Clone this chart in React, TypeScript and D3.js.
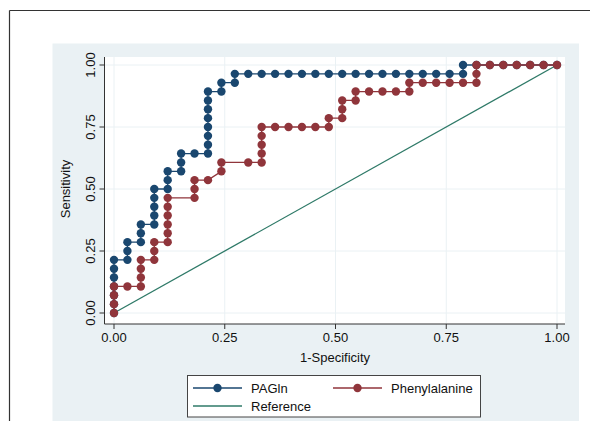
import React from 'react';
import * as d3 from 'd3';

// ROC points, as counts: false positives (of 33 controls)
// and true positives (of 28 cases).
const N_NEG = 33;
const N_POS = 28;

const pagFP = [0, 0, 0, 0, 0, 0, 0, 1, 1, 1, 2, 2, 2, 3, 3, 3, 3, 3, 4, 4, 4, 5, 5, 5, 6, 7, 7, 7, 7, 7, 7, 7, 7, 8, 8, 9, 9, 10, 11, 12, 13, 14, 15, 16, 17, 18, 19, 20, 21, 22, 23, 24, 25, 26, 26, 27, 28, 29, 30, 31, 32, 33];
const pagTP = [0, 1, 2, 3, 4, 5, 6, 6, 7, 8, 8, 9, 10, 10, 11, 12, 13, 14, 14, 15, 16, 16, 17, 18, 18, 18, 19, 20, 21, 22, 23, 24, 25, 25, 26, 26, 27, 27, 27, 27, 27, 27, 27, 27, 27, 27, 27, 27, 27, 27, 27, 27, 27, 27, 28, 28, 28, 28, 28, 28, 28, 28];

const pheFP = [0, 0, 0, 0, 1, 2, 2, 2, 2, 3, 3, 3, 4, 4, 4, 4, 4, 4, 6, 6, 6, 7, 8, 8, 10, 11, 11, 11, 11, 11, 12, 13, 14, 15, 16, 16, 17, 17, 17, 18, 18, 19, 20, 21, 22, 22, 23, 24, 25, 26, 27, 27, 27, 28, 29, 30, 31, 32, 33];
const pheTP = [0, 1, 2, 3, 3, 3, 4, 5, 6, 6, 7, 8, 8, 9, 10, 11, 12, 13, 13, 14, 15, 15, 16, 17, 17, 17, 18, 19, 20, 21, 21, 21, 21, 21, 21, 22, 22, 23, 24, 24, 25, 25, 25, 25, 25, 26, 26, 26, 26, 26, 26, 27, 28, 28, 28, 28, 28, 28, 28];

const ticks = [0, 0.25, 0.5, 0.75, 1];
const tickLabels = ['0.00', '0.25', '0.50', '0.75', '1.00'];
const refLine = [0, 1];

const BLUE = '#1a476f';
const RED = '#90353b';
const GREEN = '#2f7a68';
const BG = '#eaf1f4';
const GRID = '#eaf1f4';
const FONT = "'Liberation Sans', Arial, sans-serif";
const FS = 13;

const x = d3.scaleLinear().domain([0, 1]).range([114, 557]);
const y = d3.scaleLinear().domain([0, 1]).range([313, 65]);
const plot = { left: 104.5, right: 565, top: 57, bottom: 324 };

function toPoints(fp: number[], tp: number[]) {
  return fp.map((v, i) => ({ fx: v / N_NEG, ty: tp[i] / N_POS }));
}

const line = d3.line<{ fx: number; ty: number }>().x((d) => x(d.fx)).y((d) => y(d.ty));

function Curve({ fp, tp, color }: { fp: number[]; tp: number[]; color: string }) {
  const pts = toPoints(fp, tp);
  return (
    <g>
      <path d={line(pts) || ''} fill="none" stroke={color} strokeWidth={1.3} />
      {pts.map((p, i) => (
        <circle key={i} cx={x(p.fx)} cy={y(p.ty)} r={4.2} fill={color} />
      ))}
    </g>
  );
}

export default function App() {
  return (
    <svg
      width={609}
      height={421}
      style={{ position: 'absolute', left: 0, top: 0, background: '#fff', fontFamily: FONT }}
    >
      <line x1={9.5} y1={10.5} x2={590} y2={10.5} stroke="#333" strokeWidth={1.2} />
      <line x1={9.5} y1={10.5} x2={9.5} y2={421} stroke="#333" strokeWidth={1.2} />
      <rect x={52.5} y={43.5} width={526.5} height={380} fill={BG} />
      <rect x={plot.left} y={plot.top} width={plot.right - plot.left} height={plot.bottom - plot.top} fill="#fff" />

      {ticks.map((t) => (
        <g key={`g${t}`}>
          <line x1={x(t)} x2={x(t)} y1={plot.top} y2={plot.bottom} stroke={GRID} strokeWidth={1} />
          <line x1={plot.left} x2={plot.right} y1={y(t)} y2={y(t)} stroke={GRID} strokeWidth={1} />
        </g>
      ))}

      <line
        x1={x(refLine[0])}
        y1={y(refLine[0])}
        x2={x(refLine[1])}
        y2={y(refLine[1])}
        stroke={GREEN}
        strokeWidth={1.3}
      />
      <Curve fp={pagFP} tp={pagTP} color={BLUE} />
      <Curve fp={pheFP} tp={pheTP} color={RED} />

      {/* axes */}
      <line x1={plot.left} x2={plot.left} y1={plot.top} y2={plot.bottom} stroke="#333" strokeWidth={1} />
      <line x1={plot.left} x2={plot.right} y1={plot.bottom} y2={plot.bottom} stroke="#333" strokeWidth={1} />
      {ticks.map((t, i) => (
        <g key={`t${t}`}>
          <line x1={plot.left - 5} x2={plot.left} y1={y(t)} y2={y(t)} stroke="#333" />
          <text
            transform={`translate(${94.5},${y(t)}) rotate(-90)`}
            textAnchor="middle"
            fontSize={FS}
            fontFamily={FONT}
            fill="#111"
          >
            {tickLabels[i]}
          </text>
          <line x1={x(t)} x2={x(t)} y1={plot.bottom} y2={plot.bottom + 5} stroke="#333" />
          <text x={x(t)} y={342} textAnchor="middle" fontSize={FS} fontFamily={FONT} fill="#111">
            {tickLabels[i]}
          </text>
        </g>
      ))}
      <text
        transform={`translate(70,${y(0.5)}) rotate(-90)`}
        textAnchor="middle"
        fontSize={FS}
        fontFamily={FONT}
        fill="#111"
      >
        Sensitivity
      </text>
      <text x={335} y={362} textAnchor="middle" fontSize={FS} fontFamily={FONT} fill="#111">
        1-Specificity
      </text>

      {/* legend */}
      <rect x={187.5} y={375.5} width={293} height={41.5} fill="#fff" stroke="#444" strokeWidth={1} />
      <line x1={193} x2={242} y1={388} y2={388} stroke={BLUE} strokeWidth={1.3} />
      <circle cx={217.5} cy={388} r={4.2} fill={BLUE} />
      <text x={251} y={392.5} fontSize={FS} fontFamily={FONT} fill="#111">PAGln</text>
      <line x1={333} x2={382} y1={388} y2={388} stroke={RED} strokeWidth={1.3} />
      <circle cx={357.5} cy={388} r={4.2} fill={RED} />
      <text x={391} y={392.5} fontSize={FS} fontFamily={FONT} fill="#111">Phenylalanine</text>
      <line x1={193} x2={242} y1={406} y2={406} stroke={GREEN} strokeWidth={1.3} />
      <text x={251} y={410.5} fontSize={FS} fontFamily={FONT} fill="#111">Reference</text>
    </svg>
  );
}
